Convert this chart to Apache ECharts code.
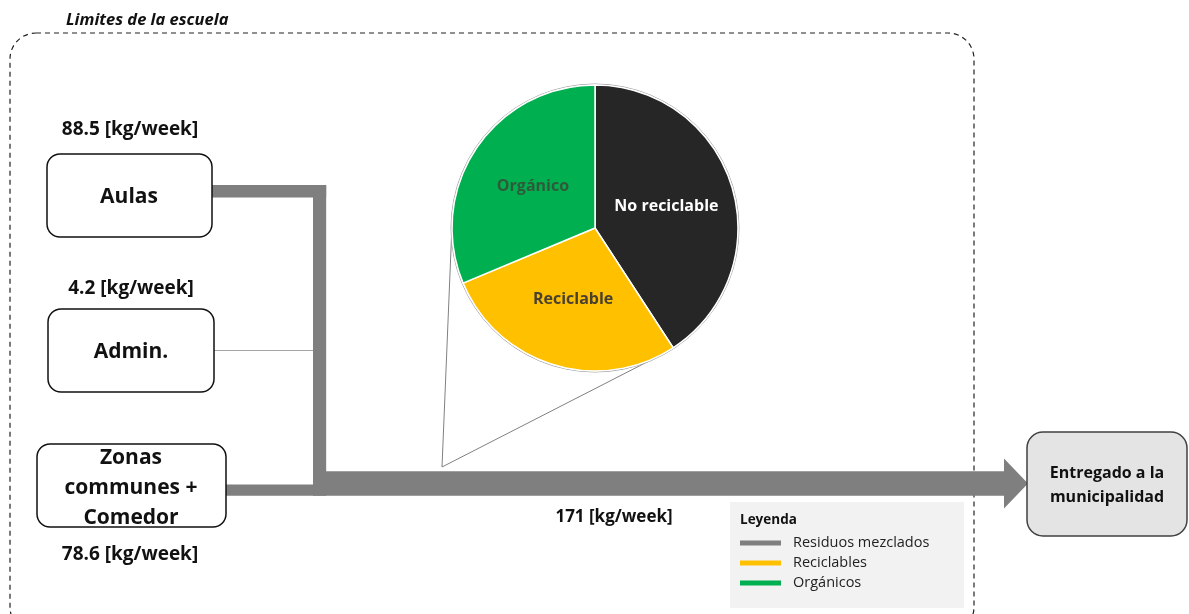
<!DOCTYPE html>
<html>
<head>
<meta charset="utf-8">
<script src="https://cdn.jsdelivr.net/npm/echarts@6/dist/echarts.min.js"></script>
<style>
html,body{margin:0;padding:0;background:#fff;}
#chart{width:1189px;height:614px;}
</style>
</head>
<body>
<div id="chart"></div>
<script>
// ---- data ----
var pieCategories = ['No reciclable', 'Reciclable', 'Orgánico'];
var pieValues = [40.8, 27.9, 31.3];
var sourceNames = ['Aulas', 'Admin.', 'Zonas\ncommunes +\nComedor'];
var sourceKg = [88.5, 4.2, 78.6];
var totalKg = 171;
var destination = 'Entregado a la\nmunicipalidad';
var boundaryTitle = 'Limites de la escuela';
var legendTitle = 'Leyenda';
var legendItems = ['Residuos mezclados', 'Reciclables', 'Orgánicos'];

// ---- styles ----
var pieColors = ['#262626', '#ffc000', '#00b050'];
var pieLabelColors = ['#ffffff', '#4a4030', '#2f5a3a'];
var legendColors = ['#7f7f7f', '#ffc000', '#00b050'];
var FONT = '"Open Sans", sans-serif';
var GRAY = '#7f7f7f';
var K = 0.142; // px per kg for flow width

var chart = echarts.init(document.getElementById('chart'));

var pc = [595, 228], pr = 143;
var P = [442, 467];
// tangent points from P to pie circle
var dx = P[0] - pc[0], dy = P[1] - pc[1];
var d = Math.sqrt(dx * dx + dy * dy);
var base = Math.atan2(dy, dx), th = Math.acos(pr / d);
var t1 = [pc[0] + pr * Math.cos(base + th), pc[1] + pr * Math.sin(base + th)];
var t2 = [pc[0] + pr * Math.cos(base - th), pc[1] + pr * Math.sin(base - th)];

function w(kg) { return Math.max(1, kg * K); }

var wA = w(sourceKg[0]), wAd = w(sourceKg[1]), wZ = w(sourceKg[2]), wT = w(totalKg);
var wV = w(sourceKg[0] + sourceKg[1]);
var vx = 313;          // left of vertical collector
var mainCy = 483.5;    // main flow centerline
var arrowEnd = 1004;

function boxText(x, y, txt, size, lh) {
  return { type: 'text', style: { x: x, y: y, text: txt, font: 'bold ' + size + 'px ' + FONT, fill: '#111', align: 'center', verticalAlign: 'middle', lineHeight: lh || size * 1.3 } };
}

var graphics = [
  // boundary
  { type: 'rect', shape: { x: 10, y: 33, width: 964, height: 600, r: 26 }, style: { fill: 'none', stroke: '#222', lineWidth: 1.2, lineDash: [5, 4] } },
  { type: 'text', style: { x: 66, y: 20, text: boundaryTitle, font: 'italic bold 16.5px ' + FONT, fill: '#111', verticalAlign: 'middle' } },
  // tangent lines
  { type: 'line', shape: { x1: P[0], y1: P[1], x2: t1[0], y2: t1[1] }, style: { stroke: '#808080', lineWidth: 1 } },
  { type: 'line', shape: { x1: P[0], y1: P[1], x2: t2[0], y2: t2[1] }, style: { stroke: '#808080', lineWidth: 1 } },
  { type: 'circle', shape: { cx: pc[0], cy: pc[1], r: pr + 1 }, style: { fill: 'none', stroke: '#a8a8a8', lineWidth: 1 } },
  // flows
  { type: 'rect', shape: { x: 212, y: 185, width: vx + wV - 212, height: wA }, style: { fill: GRAY } },
  { type: 'rect', shape: { x: vx, y: 185, width: wV, height: mainCy + wT / 2 - 185 }, style: { fill: GRAY } },
  { type: 'line', shape: { x1: 214, y1: 350.5, x2: vx, y2: 350.5 }, style: { stroke: '#a6a6a6', lineWidth: wAd } },
  { type: 'rect', shape: { x: 226, y: mainCy + wT / 2 - wZ, width: vx - 226, height: wZ }, style: { fill: GRAY } },
  { type: 'rect', shape: { x: vx, y: mainCy - wT / 2, width: arrowEnd - vx, height: wT }, style: { fill: GRAY } },
  { type: 'polygon', shape: { points: [[arrowEnd, mainCy - 25], [1028, mainCy], [arrowEnd, mainCy + 25]] }, style: { fill: GRAY } },
  // source boxes
  { type: 'rect', shape: { x: 47, y: 154, width: 165, height: 83, r: 13 }, style: { fill: '#fff', stroke: '#111', lineWidth: 1.5 } },
  boxText(129, 197, sourceNames[0], 21),
  boxText(130, 130, sourceKg[0] + ' [kg/week]', 19),
  { type: 'rect', shape: { x: 48, y: 309, width: 166, height: 83, r: 13 }, style: { fill: '#fff', stroke: '#111', lineWidth: 1.5 } },
  boxText(131, 352, sourceNames[1], 21),
  boxText(131, 289, sourceKg[1] + ' [kg/week]', 19),
  { type: 'rect', shape: { x: 37, y: 444, width: 189, height: 83, r: 13 }, style: { fill: '#fff', stroke: '#111', lineWidth: 1.5 } },
  boxText(131, 488, sourceNames[2], 21, 30),
  boxText(130, 555, sourceKg[2] + ' [kg/week]', 19),
  boxText(614, 517, totalKg + ' [kg/week]', 17),
  // destination
  { type: 'rect', shape: { x: 1027, y: 432, width: 160, height: 104, r: 16 }, style: { fill: '#e4e4e4', stroke: '#404040', lineWidth: 1.5 } },
  boxText(1107, 485, destination, 16, 24),
  // legend
  { type: 'rect', shape: { x: 730, y: 502, width: 234, height: 106 }, style: { fill: '#f2f2f2' } },
  { type: 'text', style: { x: 740, y: 520, text: legendTitle, font: 'bold 13.5px ' + FONT, fill: '#111', verticalAlign: 'middle' } }
];
legendItems.forEach(function (name, i) {
  var y = 543 + i * 20;
  graphics.push({ type: 'rect', shape: { x: 740, y: y - 2.5, width: 41, height: 5 }, style: { fill: legendColors[i] } });
  graphics.push({ type: 'text', style: { x: 793, y: y, text: name, font: '14.5px ' + FONT, fill: '#222', verticalAlign: 'middle' } });
});

chart.setOption({
  animation: false,
  graphic: { elements: graphics },
  series: [{
    type: 'pie',
    center: pc,
    radius: pr,
    startAngle: 90,
    clockwise: true,
    silent: true,
    emphasis: { disabled: true },
    itemStyle: { borderColor: '#fff', borderWidth: 1.5 },
    label: { show: true, position: 'inner', fontFamily: FONT, fontWeight: 'bold', fontSize: 16 },
    labelLine: { show: false },
    data: pieCategories.map(function (n, i) {
      return { name: n, value: pieValues[i], itemStyle: { color: pieColors[i] }, label: { color: pieLabelColors[i], formatter: '{b}' } };
    })
  }]
});
</script>
</body>
</html>
